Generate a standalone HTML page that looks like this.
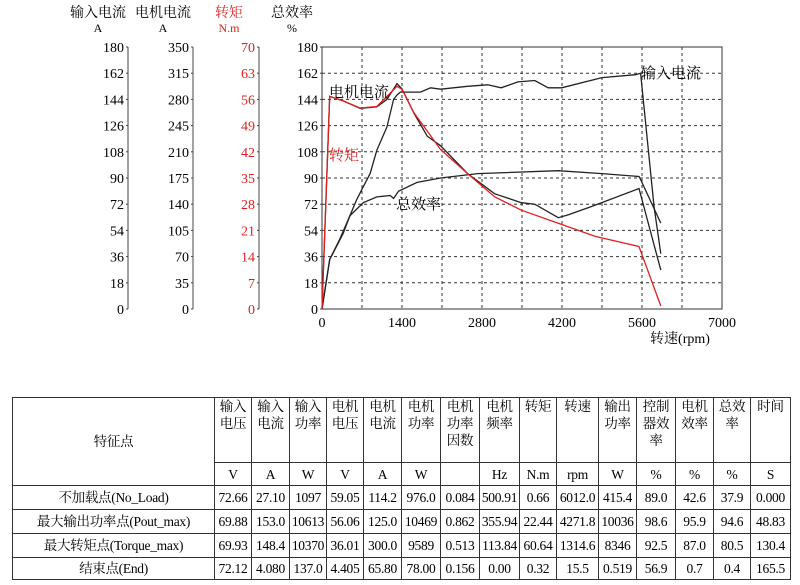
<!DOCTYPE html>
<html><head><meta charset="utf-8">
<style>
body{margin:0;width:800px;height:585px;background:#fff;overflow:hidden;font-family:"Liberation Serif","Noto Serif CJK SC",serif;}
svg text{font-family:"Liberation Serif","Noto Serif CJK SC",serif;}
table{position:absolute;left:12px;top:397px;border-collapse:collapse;font-size:13.5px;table-layout:fixed;}
td{border:1px solid #333;text-align:center;padding:0;line-height:17px;white-space:nowrap;overflow:hidden;letter-spacing:-0.3px}
.h td{vertical-align:top;}
</style></head><body>
<svg id="chart" width="800" height="390" style="position:absolute;left:0;top:0"></svg>
<table>
<colgroup><col style="width:202px"><col style="width:37px"><col style="width:38px"><col style="width:37px"><col style="width:37px"><col style="width:38px"><col style="width:39px"><col style="width:39px"><col style="width:40px"><col style="width:37px"><col style="width:42px"><col style="width:38px"><col style="width:39px"><col style="width:38px"><col style="width:37px"><col style="width:40px"></colgroup>
<tr class="h" style="height:65px"><td rowspan="2" style="vertical-align:middle">特征点</td><td>输入<br>电压</td><td>输入<br>电流</td><td>输入<br>功率</td><td>电机<br>电压</td><td>电机<br>电流</td><td>电机<br>功率</td><td>电机<br>功率<br>因数</td><td>电机<br>频率</td><td>转矩</td><td>转速</td><td>输出<br>功率</td><td>控制<br>器效<br>率</td><td>电机<br>效率</td><td>总效<br>率</td><td>时间</td></tr>
<tr style="height:23px"><td>V</td><td>A</td><td>W</td><td>V</td><td>A</td><td>W</td><td></td><td>Hz</td><td>N.m</td><td>rpm</td><td>W</td><td>%</td><td>%</td><td>%</td><td>S</td></tr>
<tr style="height:24px"><td>不加载点(No_Load)</td><td>72.66</td><td>27.10</td><td>1097</td><td>59.05</td><td>114.2</td><td>976.0</td><td>0.084</td><td>500.91</td><td>0.66</td><td>6012.0</td><td>415.4</td><td>89.0</td><td>42.6</td><td>37.9</td><td>0.000</td></tr>
<tr style="height:24px"><td>最大输出功率点(Pout_max)</td><td>69.88</td><td>153.0</td><td>10613</td><td>56.06</td><td>125.0</td><td>10469</td><td>0.862</td><td>355.94</td><td>22.44</td><td>4271.8</td><td>10036</td><td>98.6</td><td>95.9</td><td>94.6</td><td>48.83</td></tr>
<tr style="height:24px"><td>最大转矩点(Torque_max)</td><td>69.93</td><td>148.4</td><td>10370</td><td>36.01</td><td>300.0</td><td>9589</td><td>0.513</td><td>113.84</td><td>60.64</td><td>1314.6</td><td>8346</td><td>92.5</td><td>87.0</td><td>80.5</td><td>130.4</td></tr>
<tr style="height:22px"><td>结束点(End)</td><td>72.12</td><td>4.080</td><td>137.0</td><td>4.405</td><td>65.80</td><td>78.00</td><td>0.156</td><td>0.00</td><td>0.32</td><td>15.5</td><td>0.519</td><td>56.9</td><td>0.7</td><td>0.4</td><td>165.5</td></tr>
</table>
<script>
const effRpm=[0,135,312,488,723,959,1194,1253,1341,1665,2076,2723,4135,4900,5547,5576,5929];
const effVal=[0,34,48,64,73,77,78,76,81,87,90,93,95,93,91,89,59];
const inRpm=[0,135,253,371,488,606,723,841,959,1135,1253,1312,1371,1724,1900,2076,2547,2900,3135,3429,3724,3959,4194,4900,5488,5576,5812,5929];
const inVal=[0,34,43,52,64,75,84,93,109,125,144,147,149,149,152,151,153,154,152,156,157,152,152,159,161,162,70,38];
const motRpm=[0,135,371,665,959,1135,1312,1400,1606,1841,2076,2547,3018,3488,3724,4135,4312,4723,5547,5929];
const motVal=[0,284,278,268,270,280,301,294,262,231,218,181,154,142,140,122,126,137,161,52];
const tqRpm=[0,135,371,665,959,1135,1312,1400,1606,2076,2547,3018,3488,4135,4782,5547,5929];
const tqVal=[0,56.8,55.6,53.7,54.1,56.8,59.5,58.7,52.5,42.6,36.2,30,26.4,22.9,19.4,16.7,0.8];
const xTicks=[0,1400,2800,4200,5600,7000];
const axInTicks=[0,18,36,54,72,90,108,126,144,162,180];
const axMotTicks=[0,35,70,105,140,175,210,245,280,315,350];
const axTqTicks=[0,7,14,21,28,35,42,49,56,63,70];
const axEffTicks=[0,18,36,54,72,90,108,126,144,162,180];
const L=322,R=722,T=47,B=309;
const X=r=>L+r/7000*(R-L);
const Y=(v,m)=>B-v/m*(B-T);
const svg=document.getElementById('chart');
const NS='http://www.w3.org/2000/svg';
function mk(tag,at,txt){const e=document.createElementNS(NS,tag);for(const k in at)e.setAttribute(k,at[k]);if(txt!==undefined)e.textContent=txt;svg.appendChild(e);return e;}
// grid
for(let r=700;r<7000;r+=700){const g=mk('line',{x1:X(r),x2:X(r),y1:T,y2:B,stroke:'#333','stroke-dasharray':'3,3','stroke-width':1});

}
for(let v=18;v<180;v+=18){const g=mk('line',{x1:L,x2:R,y1:Y(v,180),y2:Y(v,180),stroke:'#333','stroke-dasharray':'3,3','stroke-width':1});

}
const fr=mk('rect',{x:L,y:T,width:R-L,height:B-T,fill:'none',stroke:'#333'});


xTicks.forEach(t=>{const e=mk('text',{x:X(t),y:B+18,'text-anchor':'middle','font-size':14},t);

});
const xt=mk('text',{x:680,y:343,'font-size':14,'text-anchor':'middle'},'转速(rpm)');


// left axes
const axes=[[128,axInTicks,180,'输入电流','A','#000'],[193,axMotTicks,350,'电机电流','A','#000'],[259,axTqTicks,70,'转矩','N.m','#e02020'],[322,axEffTicks,180,'总效率','%','#000']];
axes.forEach((a,i)=>{const [ax,ticks,m,name,unit,col]=a;
 if(i<3){const ln=mk('line',{x1:ax,x2:ax,y1:T,y2:B,stroke:'#444'});
 
 }
 ticks.forEach(t=>{const e=mk('text',{x:ax-4,y:Y(t,m)+5,'text-anchor':'end','font-size':14,fill:col},t);
 
 
 const tk=mk('line',{x1:ax-2,x2:ax,y1:Y(t,m),y2:Y(t,m),stroke:'#444'});
 
 });
 const h=mk('text',{x:ax-30,y:17,'text-anchor':'middle','font-size':14,fill:col},name);
 
 
 const u=mk('text',{x:ax-30,y:32,'text-anchor':'middle','font-size':12,fill:col},unit);
 
 
});
function series(rs,vs,m,col,name){const d=rs.map((r,i)=>(i?'L':'M')+X(r).toFixed(1)+','+Y(vs[i],m).toFixed(1)).join('');
 const p=mk('path',{d:d,fill:'none',stroke:col,'stroke-width':1.3});
 
 }
series(effRpm,effVal,180,'#222','efficiency-line');
series(inRpm,inVal,180,'#222','input-current-line');
series(motRpm,motVal,350,'#222','motor-current-line');
series(tqRpm,tqVal,70,'#e02020','torque-line');
const labs=[[641,78,'输入电流','#000','input-current-label'],[329,97,'电机电流','#000','motor-current-label'],[329,160,'转矩','#e02020','torque-label'],[396,209,'总效率','#000','efficiency-label']];
labs.forEach(l=>{const e=mk('text',{x:l[0],y:l[1],'font-size':15,fill:l[3]},l[2]);

});
</script>
</body></html>
